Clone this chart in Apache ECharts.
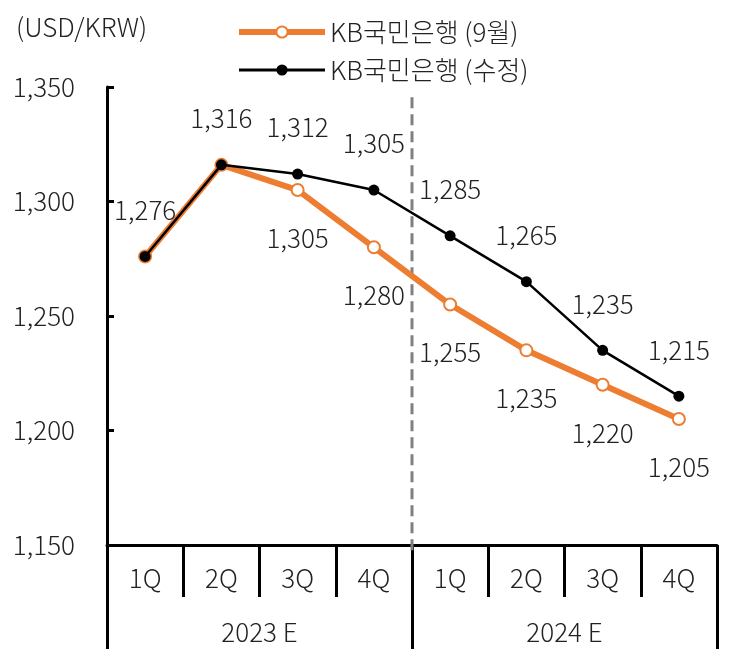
<!DOCTYPE html>
<html>
<head>
<meta charset="utf-8">
<script src="https://cdn.jsdelivr.net/npm/echarts@6/dist/echarts.min.js"></script>
<style>
  html, body { margin: 0; padding: 0; background: #fff; }
  #chart { width: 738px; height: 652px; }
</style>
</head>
<body>
<div id="chart"></div>
<script>
// 분기, 연도
var quarters = ['1Q', '2Q', '3Q', '4Q', '1Q', '2Q', '3Q', '4Q'];
var years = ['2023 E', '2024 E'];
// KB국민은행 전망
var septValues = [1276, 1316, 1305, 1280, 1255, 1235, 1220, 1205];
var revisedValues = [1276, 1316, 1312, 1305, 1285, 1265, 1235, 1215];
var yMin = 1150, yMax = 1350, yStep = 50;

var FONT = 'Noto Sans CJK KR';
var FS = 26;
var chart = echarts.init(document.getElementById('chart'));

var fmt = function (v) { return echarts.format.addCommas(v); };
var txt = { fontFamily: FONT, fontSize: FS, fontWeight: 300, color: '#222' };

chart.setOption({
  animation: false,
  textStyle: { fontFamily: FONT },
  title: {
    text: '(USD/KRW)', left: 11, top: 9,
    textStyle: txt
  },
  legend: {
    orient: 'vertical', left: 231, top: 14, itemGap: 12,
    itemWidth: 86, itemHeight: 14,
    textStyle: txt,
    data: [
      { name: 'KB국민은행 (9월)', lineStyle: { width: 6 } },
      { name: 'KB국민은행 (수정)', lineStyle: { width: 3 } }
    ]
  },
  grid: { left: 107, right: 21, top: 87, bottom: 107 },
  xAxis: [{
    type: 'category', data: quarters, position: 'bottom',
    axisLine: { lineStyle: { color: '#000', width: 3 } },
    axisTick: { show: true, interval: 0, length: 52, lineStyle: { color: '#000', width: 3 } },
    axisLabel: Object.assign({ interval: 0, margin: 20 }, txt)
  }, {
    type: 'category', data: years, position: 'bottom',
    axisLine: { show: false },
    axisTick: { show: true, interval: 0, length: 104, lineStyle: { color: '#000', width: 3 } },
    axisLabel: Object.assign({ interval: 0, margin: 74 }, txt)
  }, {
    // 구분선용 보조축
    type: 'value', min: 0, max: quarters.length, show: false
  }],
  yAxis: {
    type: 'value', min: yMin, max: yMax, interval: yStep,
    axisLine: { show: true, lineStyle: { color: '#000', width: 3 } },
    axisTick: { show: true, inside: true, length: 7, lineStyle: { color: '#000', width: 3 } },
    splitLine: { show: false },
    axisLabel: Object.assign({ margin: 32, formatter: fmt }, txt)
  },
  series: [{
    name: 'KB국민은행 (9월)', type: 'line', data: septValues, z: 2,
    symbol: 'emptyCircle', symbolSize: 12,
    lineStyle: { color: '#ED7D31', width: 6 },
    itemStyle: { color: '#ED7D31', borderWidth: 3, borderColor: '#ED7D31' },
    label: Object.assign({
      show: true, position: 'bottom', distance: 28,
      formatter: function (p) { return p.dataIndex < 2 ? '' : fmt(p.value); }
    }, txt)
  }, {
    name: 'KB국민은행 (수정)', type: 'line', data: revisedValues, z: 3,
    symbol: 'circle', symbolSize: 11,
    lineStyle: { color: '#000', width: 2.5 },
    itemStyle: { color: '#000' },
    label: Object.assign({
      show: true, position: 'top', distance: 28,
      formatter: function (p) { return fmt(p.value); }
    }, txt)
  }, {
    // 2023 / 2024 구분 점선
    name: 'divider', type: 'line', xAxisIndex: 2, clip: false, silent: true,
    symbol: 'none', z: 1,
    data: [[4, 1345.5], [4, 1147.5]],
    lineStyle: { color: '#808080', width: 3, type: [11, 6] }
  }]
});
</script>
</body>
</html>
